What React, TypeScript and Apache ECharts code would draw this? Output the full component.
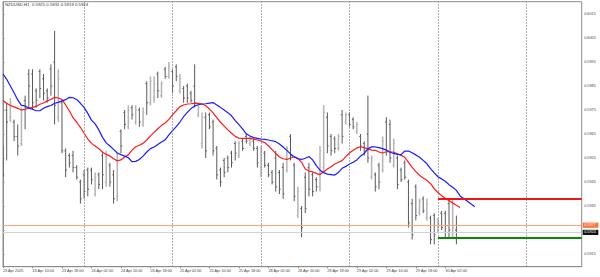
import React, { useEffect, useRef } from "react";
import * as echarts from "echarts";

const chartTitle = "NZDUSD,H1  0.5925 0.5931 0.5919 0.5924";

// [open, high, low, close] per H1 bar, starting 23 Apr 2025 02:00
const ohlc: number[][] = [
  [0.5958, 0.596, 0.5947, 0.5948], [0.5975, 0.5978, 0.5954, 0.597], [0.5972, 0.598, 0.597, 0.5978],
  [0.597, 0.5971, 0.5962, 0.5964], [0.5964, 0.5969, 0.5956, 0.596], [0.5961, 0.5976, 0.596, 0.5975],
  [0.5979, 0.5981, 0.5967, 0.5976], [0.599, 0.5992, 0.5976, 0.5985], [0.599, 0.5992, 0.5975, 0.5978],
  [0.5983, 0.5984, 0.5976, 0.5979], [0.5991, 0.5992, 0.598, 0.5984], [0.5988, 0.599, 0.5979, 0.5982],
  [0.5983, 0.5984, 0.5978, 0.598], [0.5992, 0.5994, 0.5981, 0.5985], [0.5995, 0.6008, 0.5969, 0.5977],
  [0.5972, 0.5992, 0.597, 0.5988], [0.5978, 0.5979, 0.5957, 0.5958], [0.5958, 0.5959, 0.5947, 0.595],
  [0.5956, 0.5957, 0.5951, 0.5953], [0.5956, 0.5958, 0.5949, 0.5951], [0.5951, 0.5952, 0.5946, 0.5947],
  [0.5945, 0.5946, 0.5936, 0.5938], [0.5948, 0.595, 0.5938, 0.5941], [0.595, 0.5951, 0.5939, 0.5942],
  [0.595, 0.5951, 0.5944, 0.5946], [0.594, 0.5949, 0.5939, 0.5947], [0.5948, 0.5949, 0.5942, 0.5944],
  [0.5956, 0.5957, 0.5942, 0.5948], [0.5945, 0.5958, 0.5943, 0.5955], [0.5952, 0.5953, 0.5943, 0.5945],
  [0.5948, 0.595, 0.5936, 0.5938], [0.5939, 0.5957, 0.5937, 0.5955], [0.5966, 0.5967, 0.5957, 0.596],
  [0.5974, 0.5975, 0.5967, 0.5969], [0.5968, 0.5977, 0.5967, 0.5975], [0.5976, 0.5977, 0.5971, 0.5973],
  [0.597, 0.5977, 0.5969, 0.5975], [0.5975, 0.5976, 0.5968, 0.597], [0.5969, 0.5976, 0.5968, 0.5974],
  [0.5986, 0.5987, 0.5973, 0.5978], [0.5978, 0.5989, 0.5977, 0.5987], [0.598, 0.5989, 0.5978, 0.5986],
  [0.599, 0.5991, 0.598, 0.5983], [0.5981, 0.5987, 0.598, 0.5986], [0.5992, 0.5993, 0.5988, 0.5989],
  [0.5989, 0.5995, 0.5988, 0.5993], [0.5991, 0.5992, 0.5982, 0.5985], [0.5993, 0.5994, 0.5987, 0.5989],
  [0.5983, 0.599, 0.5982, 0.5988], [0.5984, 0.5985, 0.5978, 0.598], [0.5985, 0.5986, 0.5978, 0.598],
  [0.5982, 0.5983, 0.5978, 0.5979], [0.5985, 0.5994, 0.5976, 0.5978], [0.5973, 0.5977, 0.5972, 0.5976],
  [0.5961, 0.5974, 0.5959, 0.5972], [0.5972, 0.5974, 0.5955, 0.5958], [0.5973, 0.5974, 0.5967, 0.5968],
  [0.597, 0.5971, 0.5956, 0.5958], [0.5959, 0.596, 0.5946, 0.5948], [0.595, 0.5951, 0.5943, 0.5945],
  [0.5954, 0.5955, 0.5947, 0.5949], [0.5955, 0.5956, 0.5949, 0.5951], [0.5957, 0.5958, 0.5951, 0.5953],
  [0.5961, 0.5962, 0.5954, 0.5957], [0.5956, 0.5962, 0.5955, 0.5961], [0.5962, 0.5963, 0.5958, 0.5959],
  [0.5964, 0.5965, 0.5961, 0.5962], [0.5961, 0.5964, 0.596, 0.5963], [0.5962, 0.5963, 0.5958, 0.5959],
  [0.5959, 0.596, 0.5951, 0.5953], [0.5948, 0.596, 0.5947, 0.5958], [0.5957, 0.5958, 0.5951, 0.5952],
  [0.5952, 0.5953, 0.5947, 0.5948], [0.5949, 0.595, 0.5944, 0.5945], [0.5955, 0.5958, 0.5941, 0.5943],
  [0.5949, 0.595, 0.594, 0.5942], [0.5951, 0.5953, 0.5938, 0.594], [0.595, 0.596, 0.5949, 0.5959],
  [0.5964, 0.5965, 0.5954, 0.5956], [0.5952, 0.5953, 0.5937, 0.5939], [0.5931, 0.5943, 0.593, 0.5941],
  [0.5934, 0.5935, 0.5922, 0.5926], [0.5947, 0.5949, 0.5932, 0.5934], [0.5951, 0.5953, 0.5939, 0.5942],
  [0.5948, 0.5949, 0.5939, 0.5941], [0.5946, 0.5947, 0.5941, 0.5943], [0.5943, 0.596, 0.5941, 0.5958],
  [0.5951, 0.5977, 0.5949, 0.5974], [0.5972, 0.5974, 0.5957, 0.596], [0.5964, 0.5965, 0.5956, 0.5958],
  [0.5963, 0.5964, 0.5957, 0.5959], [0.5959, 0.5965, 0.5958, 0.5964], [0.5973, 0.5975, 0.5961, 0.5964],
  [0.597, 0.5974, 0.5969, 0.5973], [0.5973, 0.5974, 0.5968, 0.5969], [0.5971, 0.5972, 0.5967, 0.5968],
  [0.5966, 0.597, 0.5965, 0.5969], [0.5964, 0.5965, 0.5958, 0.596], [0.5961, 0.5962, 0.5956, 0.5958],
  [0.5965, 0.5981, 0.5953, 0.5955], [0.5947, 0.5956, 0.5946, 0.5955], [0.5948, 0.5949, 0.5941, 0.5943],
  [0.5952, 0.5953, 0.5942, 0.5945], [0.595, 0.5964, 0.5949, 0.5962], [0.597, 0.5972, 0.5956, 0.5958],
  [0.5969, 0.5971, 0.5953, 0.5955], [0.5952, 0.5963, 0.5951, 0.5961], [0.5955, 0.5956, 0.5942, 0.5944],
  [0.595, 0.5951, 0.5945, 0.5946], [0.5953, 0.5954, 0.5946, 0.5947], [0.5945, 0.5946, 0.5926, 0.5928],
  [0.5936, 0.5938, 0.5921, 0.5923], [0.5943, 0.5944, 0.5929, 0.5931], [0.5932, 0.5938, 0.5931, 0.5937],
  [0.5938, 0.5939, 0.5932, 0.5933], [0.593, 0.5938, 0.5929, 0.5936], [0.593, 0.5931, 0.5919, 0.5921],
  [0.5931, 0.5932, 0.5919, 0.5923], [0.5924, 0.593, 0.5924, 0.5928], [0.5932, 0.5933, 0.5925, 0.5926],
  [0.5932, 0.5933, 0.5922, 0.5924], [0.5936, 0.5938, 0.5922, 0.5925], [0.5923, 0.5938, 0.5922, 0.5926],
  [0.5925, 0.5931, 0.5919, 0.5924],
];

// red moving average (shifted 1 bar)
const redMA: number[] = [
  0.5979, 0.59778, 0.59769, 0.59763, 0.59757, 0.5975, 0.59753, 0.59758, 0.59761, 0.59765,
  0.59774, 0.59779, 0.59788, 0.59794, 0.59803, 0.598, 0.59794, 0.59771, 0.59747, 0.59718,
  0.59699, 0.59678, 0.59653, 0.59629, 0.59611, 0.596, 0.59589, 0.59574, 0.59565, 0.59558,
  0.59547, 0.59538, 0.59542, 0.59554, 0.59563, 0.59583, 0.59597, 0.59603, 0.59611, 0.59625,
  0.59642, 0.59657, 0.59672, 0.59686, 0.59696, 0.59711, 0.59731, 0.59747, 0.59764, 0.59771,
  0.59775, 0.59776, 0.59778, 0.59778, 0.59775, 0.59768, 0.59754, 0.59738, 0.59718, 0.59699,
  0.59683, 0.59667, 0.59653, 0.5964, 0.59633, 0.59632, 0.59632, 0.59632, 0.59629, 0.59625,
  0.59621, 0.59614, 0.59601, 0.59585, 0.59569, 0.59554, 0.59547, 0.59544, 0.59549, 0.59556,
  0.59549, 0.59532, 0.59504, 0.59496, 0.59492, 0.59486, 0.59481, 0.59493, 0.59504, 0.59514,
  0.59525, 0.59532, 0.59539, 0.59556, 0.59571, 0.59582, 0.59592, 0.59597, 0.59593, 0.59588,
  0.59583, 0.59582, 0.59575, 0.59571, 0.59576, 0.59576, 0.59574, 0.59568, 0.59561, 0.59553,
  0.59532, 0.59511, 0.59493, 0.59478, 0.59467, 0.59457, 0.59443, 0.59422, 0.59406, 0.59393,
  0.59382, 0.59372, 0.59363, 0.59353, 0.59344,
];

// blue moving average (shifted 5 bars)
const blueMA: number[] = [
  0.599, 0.59878, 0.5985, 0.59822, 0.59792, 0.59769, 0.59767, 0.59758, 0.59753, 0.59747,
  0.59747, 0.59757, 0.59764, 0.59769, 0.59778, 0.59782, 0.59788, 0.59793, 0.59803, 0.59801,
  0.59794, 0.59778, 0.59761, 0.59736, 0.59708, 0.59692, 0.59667, 0.59636, 0.59613, 0.596,
  0.59586, 0.59571, 0.59564, 0.59558, 0.59551, 0.59535, 0.59536, 0.59544, 0.59558, 0.59575,
  0.59589, 0.59596, 0.59606, 0.59617, 0.59626, 0.59646, 0.59664, 0.59681, 0.597, 0.59722,
  0.5974, 0.59756, 0.59767, 0.59772, 0.59775, 0.59776, 0.59779, 0.59781, 0.59771, 0.59761,
  0.5975, 0.59739, 0.59726, 0.59706, 0.59689, 0.59671, 0.59651, 0.59642, 0.59635, 0.59632,
  0.59629, 0.59628, 0.59625, 0.59622, 0.59618, 0.59608, 0.59596, 0.59582, 0.59567, 0.59554,
  0.59547, 0.59544, 0.59549, 0.59556, 0.59542, 0.59518, 0.59499, 0.59489, 0.59483, 0.59481,
  0.59479, 0.5949, 0.59507, 0.59515, 0.59525, 0.59532, 0.59542, 0.59558, 0.59569, 0.59588,
  0.59597, 0.59596, 0.59593, 0.59589, 0.59583, 0.59574, 0.59569, 0.59565, 0.59564, 0.59579,
  0.59579, 0.59572, 0.59563, 0.59553, 0.5954, 0.59526, 0.59506, 0.59488, 0.59472, 0.59463,
  0.59453, 0.59439, 0.59428, 0.59415, 0.59392, 0.59381, 0.5937, 0.59358, 0.59347,
];

const timeTickIndex = [0, 8, 16, 24, 32, 40, 48, 56, 64, 72, 80, 88, 96, 104, 112, 120];
const timeTickLabels = [
  "23 Apr 2025", "23 Apr 10:00", "23 Apr 18:00", "24 Apr 02:00", "24 Apr 10:00", "24 Apr 18:00",
  "25 Apr 02:00", "25 Apr 10:00", "25 Apr 18:00", "28 Apr 02:00", "28 Apr 10:00", "28 Apr 18:00",
  "29 Apr 02:00", "29 Apr 10:00", "29 Apr 18:00", "30 Apr 02:00",
];
// price grid ticks; the 0.5925 label sits under the current-price boxes, as in the reference
const priceTicks = [0.5915, 0.5925, 0.5935, 0.5945, 0.5955, 0.5965, 0.5975, 0.5985, 0.5995, 0.6005, 0.6015];
const priceLabels = [0.5915, 0.5935, 0.5945, 0.5955, 0.5965, 0.5975, 0.5985, 0.5995, 0.6005, 0.6015];
const daySeparators = [22, 46, 70, 94, 118, 142];
const resistanceLevel = 0.59379;
const supportLevel = 0.59217;
const levelStartIndex = 118;
const askPrice = 0.5927;
const bidPrice = 0.5924;

const X_MAX = 157;
const FONT = "Liberation Sans";

function priceLine(value: number, lineColor: string, boxColor: string) {
  return [
    {
      coord: [0, value],
      lineStyle: { color: lineColor, width: 1, type: "solid" },
      label: {
        show: true,
        position: "end",
        distance: 1,
        formatter: value.toFixed(4),
        backgroundColor: boxColor,
        color: "#ffffff",
        fontSize: 3.8,
        fontFamily: FONT,
        padding: [0.8, 2.5, 0.4, 1.5],
      },
    },
    { coord: [X_MAX, value] },
  ];
}

export default function App() {
  const ref = useRef<HTMLDivElement>(null);
  useEffect(() => {
    if (!ref.current) return;
    const chart = echarts.init(ref.current, undefined, { renderer: "svg" });
    const option: any = {
      animation: false,
      backgroundColor: "#ffffff",
      title: {
        text: chartTitle,
        left: 5,
        top: 2.5,
        padding: 0,
        textStyle: { fontSize: 4.3, fontWeight: "normal", color: "#333", fontFamily: FONT },
      },
      grid: {
        left: 1,
        right: 18.3,
        top: 1.7,
        bottom: 10.3,
        show: true,
        borderColor: "#8c8c8c",
        borderWidth: 1,
        backgroundColor: "#ffffff",
      },
      xAxis: {
        type: "value",
        min: 0,
        max: X_MAX,
        splitLine: { show: false },
        axisLine: { show: true, lineStyle: { color: "#8c8c8c", width: 1 } },
        axisTick: { show: true, customValues: timeTickIndex, length: 1.5, lineStyle: { color: "#8c8c8c" } },
        axisLabel: {
          customValues: timeTickIndex,
          formatter: (v: number) => timeTickLabels[timeTickIndex.indexOf(Math.round(v))] ?? "",
          align: "left",
          fontSize: 3.8,
          color: "#444",
          margin: 2.2,
          fontFamily: FONT,
        },
      },
      yAxis: {
        type: "value",
        position: "right",
        min: 0.590971,
        max: 0.602013,
        scale: true,
        splitLine: { show: false },
        axisLine: { show: true, lineStyle: { color: "#8c8c8c", width: 1 } },
        axisTick: { show: true, customValues: priceTicks, length: 1.5, lineStyle: { color: "#8c8c8c" } },
        axisLabel: {
          customValues: priceLabels,
          formatter: (v: number) => v.toFixed(4),
          fontSize: 3.8,
          color: "#444",
          margin: 2.5,
          fontFamily: FONT,
        },
      },
      series: [
        {
          type: "custom",
          name: "bars",
          clip: true,
          z: 3,
          data: ohlc.map((d, i) => [i, d[0], d[1], d[2], d[3]]),
          encode: { x: 0, y: [1, 2, 3, 4] },
          renderItem: (_params: any, api: any) => {
            const i = api.value(0);
            const o = api.value(1);
            const h = api.value(2);
            const l = api.value(3);
            const c = api.value(4);
            const pH = api.coord([i, h]);
            const pL = api.coord([i, l]);
            const pO = api.coord([i, o]);
            const pC = api.coord([i, c]);
            const up = c > o;
            const color = up ? "#b4b4b4" : "#5a5a5a";
            const w = up ? 1.5 : 1;
            const t = 1.3;
            return {
              type: "group",
              children: [
                { type: "line", shape: { x1: pH[0], y1: pH[1], x2: pL[0], y2: pL[1] }, style: { stroke: color, lineWidth: w } },
                { type: "line", shape: { x1: pO[0] - t, y1: pO[1], x2: pO[0], y2: pO[1] }, style: { stroke: color, lineWidth: 1 } },
                { type: "line", shape: { x1: pC[0], y1: pC[1], x2: pC[0] + t, y2: pC[1] }, style: { stroke: color, lineWidth: 1 } },
              ],
            };
          },
        },
        {
          type: "line",
          name: "MA red",
          data: redMA.map((v, i) => [i, v]),
          showSymbol: false,
          symbol: "none",
          z: 4,
          lineStyle: { color: "#ff1a1a", width: 1.2 },
          markLine: {
            silent: true,
            symbol: ["none", "none"],
            animation: false,
            data: [
              ...daySeparators.map((d) => ({
                xAxis: d,
                lineStyle: { color: "#7a7a7a", width: 0.8, type: [1.5, 1.5] },
                label: { show: false },
              })),
              priceLine(askPrice, "#ffa27a", "#ff6e33"),
              priceLine(bidPrice, "#d2d2d2", "#111111"),
              [
                { coord: [levelStartIndex, resistanceLevel], lineStyle: { color: "#f01414", width: 2, type: "solid" }, label: { show: false } },
                { coord: [X_MAX, resistanceLevel] },
              ],
              [
                { coord: [levelStartIndex, supportLevel], lineStyle: { color: "#088a08", width: 2, type: "solid" }, label: { show: false } },
                { coord: [X_MAX, supportLevel] },
              ],
            ],
          },
        },
        {
          type: "line",
          name: "MA blue",
          data: blueMA.map((v, i) => [i, v]),
          showSymbol: false,
          symbol: "none",
          z: 4,
          lineStyle: { color: "#1a1aff", width: 1.2 },
        },
      ],
    };
    chart.setOption(option);
    return () => chart.dispose();
  }, []);
  return (
    <div
      ref={ref}
      style={{ position: "fixed", left: 0, top: 0, width: 600, height: 277, background: "#fff" }}
    />
  );
}
